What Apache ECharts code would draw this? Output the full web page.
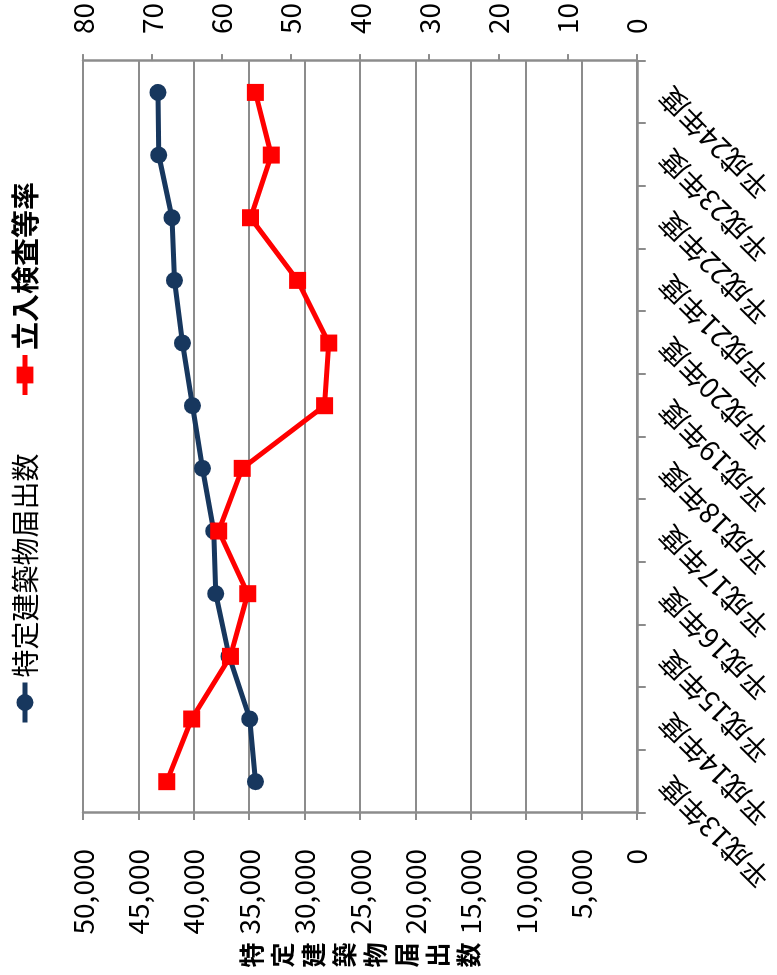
<!DOCTYPE html>
<html>
<head>
<meta charset="utf-8">
<script src="https://cdn.jsdelivr.net/npm/echarts@6/dist/echarts.min.js"></script>
<style>
html, body { margin: 0; padding: 0; width: 777px; height: 975px; overflow: hidden; background: #fff; }
#main { position: absolute; left: 0; top: 0; width: 975px; height: 777px;
  transform-origin: 0 0; transform: translate(0px, 975px) rotate(-90deg); }
</style>
</head>
<body>
<div id="main"></div>
<script>
const categories = ['平成13年度','平成14年度','平成15年度','平成16年度','平成17年度','平成18年度',
                    '平成19年度','平成20年度','平成21年度','平成22年度','平成23年度','平成24年度'];
const buildingCounts = [34426, 34940, 36810, 38012, 38192, 39213, 40116, 41020, 41742, 41959, 43161, 43224];
const inspectionRates = [67.9, 64.3, 58.7, 56.2, 60.4, 57.0, 45.1, 44.5, 49.0, 55.8, 52.8, 55.1];
const seriesNames = ['特定建築物届出数', '立入検査等率'];
const leftAxisName = '特定建築物届出数';

const FONT = '"Noto Sans CJK JP", "Noto Sans", sans-serif';
const GREY = '#8c8c8c';
const chart = echarts.init(document.getElementById('main'), null, { renderer: 'canvas' });
chart.setOption({
  animation: false,
  backgroundColor: '#fff',
  textStyle: { fontFamily: FONT },
  legend: {
    left: 245, top: 6,
    itemWidth: 40, itemHeight: 21, itemGap: 56,
    lineStyle: { width: 5 },
    textStyle: { fontSize: 28, color: '#000', fontFamily: FONT },
    data: [
      { name: seriesNames[0] },
      { name: seriesNames[1], textStyle: { fontWeight: 'bold' } }
    ]
  },
  grid: { left: 162, right: 61, top: 83, bottom: 140, containLabel: false },
  xAxis: {
    type: 'category', data: categories, boundaryGap: true,
    axisLine: { lineStyle: { color: GREY, width: 2.5 } },
    axisTick: { show: true, length: 9, lineStyle: { color: GREY, width: 2 } },
    axisLabel: { rotate: 45, interval: 0, margin: 27, fontSize: 28, color: '#000', fontFamily: FONT }
  },
  yAxis: [
    {
      type: 'value', min: 0, max: 50000, interval: 5000, position: 'left',
      name: leftAxisName.split('').join('\n'),
      nameLocation: 'middle', nameRotate: 0, nameGap: 142,
      nameTextStyle: { fontSize: 25, fontWeight: 'bold', lineHeight: 31, color: '#000',
                       align: 'center', verticalAlign: 'middle', fontFamily: FONT },
      axisLine: { show: true, lineStyle: { color: GREY, width: 2.5 } },
      axisTick: { show: true, length: 7, lineStyle: { color: GREY, width: 2 } },
      axisLabel: { margin: 36, fontSize: 28, color: '#000', fontFamily: FONT,
                   formatter: v => v.toLocaleString('en-US') },
      splitLine: { show: true, lineStyle: { color: GREY, width: 2 } }
    },
    {
      type: 'value', min: 0, max: 80, interval: 10, position: 'right',
      axisLine: { show: true, lineStyle: { color: GREY, width: 2.5 } },
      axisTick: { show: true, length: 7, lineStyle: { color: GREY, width: 2 } },
      axisLabel: { margin: 27, fontSize: 28, color: '#000', fontFamily: FONT },
      splitLine: { show: false }
    }
  ],
  series: [
    {
      name: seriesNames[0], type: 'line', yAxisIndex: 0, data: buildingCounts,
      symbol: 'circle', symbolSize: 17,
      itemStyle: { color: '#17375E' },
      lineStyle: { color: '#17375E', width: 5 },
      z: 2
    },
    {
      name: seriesNames[1], type: 'line', yAxisIndex: 1, data: inspectionRates,
      symbol: 'rect', symbolSize: 17,
      itemStyle: { color: '#FF0000' },
      lineStyle: { color: '#FF0000', width: 5 },
      z: 3
    }
  ]
});
</script>
</body>
</html>
